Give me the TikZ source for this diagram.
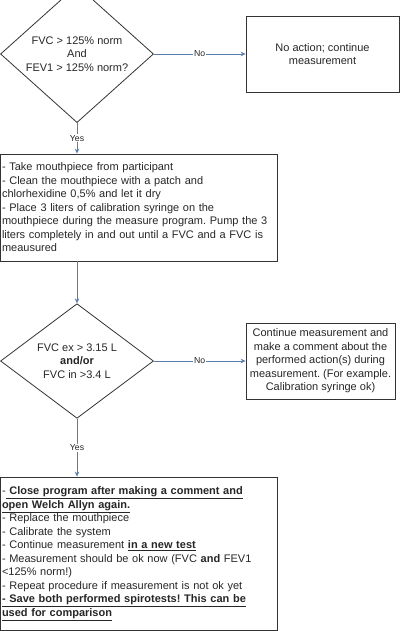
\documentclass[tikz,border=0pt]{standalone}
\usepackage{fontspec}
\setmainfont{Liberation Sans}
\newcommand{\ulx}[1]{\leavevmode\vtop{\hbox{#1}\kern1.4pt\hrule height 0.7pt}}
\usetikzlibrary{shapes.geometric,arrows.meta}
\definecolor{txt}{HTML}{262626}
\definecolor{edge}{HTML}{333333}
\definecolor{arr}{HTML}{5A7DB0}
\tikzset{
  base/.style={draw=edge, line width=0.8pt, text=txt, font=\fontsize{11}{13.5}\selectfont\frenchspacing},
  box/.style={base, rectangle, inner sep=2pt},
  decision/.style={base, diamond, minimum width=153pt, minimum height=108pt, inner sep=0pt, align=center},
  conn/.style={draw=arr, line width=0.7pt, -{Stealth[length=5pt,width=4.5pt]}},
  lab/.style={fill=white, inner sep=1pt, text=txt, font=\fontsize{8.7}{10}\selectfont}
}
\begin{document}
\begin{tikzpicture}[x=1pt,y=1pt]
\useasboundingbox (0,0) rectangle (400,-631);
\node[decision] (d1) at (77,-54) {FVC > 125\% norm\\And\\FEV1 > 125\% norm?};
\node[box, minimum width=153pt, minimum height=76pt, align=center] (b1) at (322.5,-54) {No action; continue\\measurement};
\node[box, minimum width=277pt, minimum height=107pt, text width=273pt, align=left] (b2) at (138.5,-207.5) {- Take mouthpiece from participant\\
- Clean the mouthpiece with a patch and\\
chlorhexidine 0,5\% and let it dry\\
- Place 3 liters of calibration syringe on the\\
mouthpiece during the measure program. Pump the 3\\
liters completely in and out until a FVC and a FVC is\\
meausured};
\node[decision] (d2) at (77,-361) {FVC ex > 3.15 L\\\textbf{and/or}\\FVC in >3.4 L};
\node[box, minimum width=149pt, minimum height=76pt, align=center] (b3) at (320.5,-361) {Continue measurement and\\make a comment about the\\performed action(s) during\\measurement. (For example.\\Calibration syringe ok)};
\node[box, minimum width=277pt, minimum height=153pt, text width=273pt, align=left] (b4) at (138.5,-553.5) {-\ulx{\textbf{\ Close program after making a comment and}}\\
\ulx{\textbf{open Welch Allyn again.}}\\
- Replace the mouthpiece\\
- Calibrate the system\\
- Continue measurement \ulx{\textbf{in a new test}}\\
- Measurement should be ok now (FVC \textbf{and} FEV1\\
<125\% norm!)\\
- Repeat procedure if measurement is not ok yet\\
\ulx{\textbf{- Save both performed spirotests! This can be}}\\
\ulx{\textbf{used for comparison}}};
\draw[conn] (d1.east) -- node[lab] {No} (b1.west);
\draw[conn] (d1.south) -- node[lab] {Yes} (d1.south |- b2.north);
\draw[conn] (d1.south |- b2.south) -- (d2.north);
\draw[conn] (d2.east) -- node[lab] {No} (b3.west);
\draw[conn] (d2.south) -- node[lab] {Yes} (d2.south |- b4.north);
\end{tikzpicture}
\end{document}
